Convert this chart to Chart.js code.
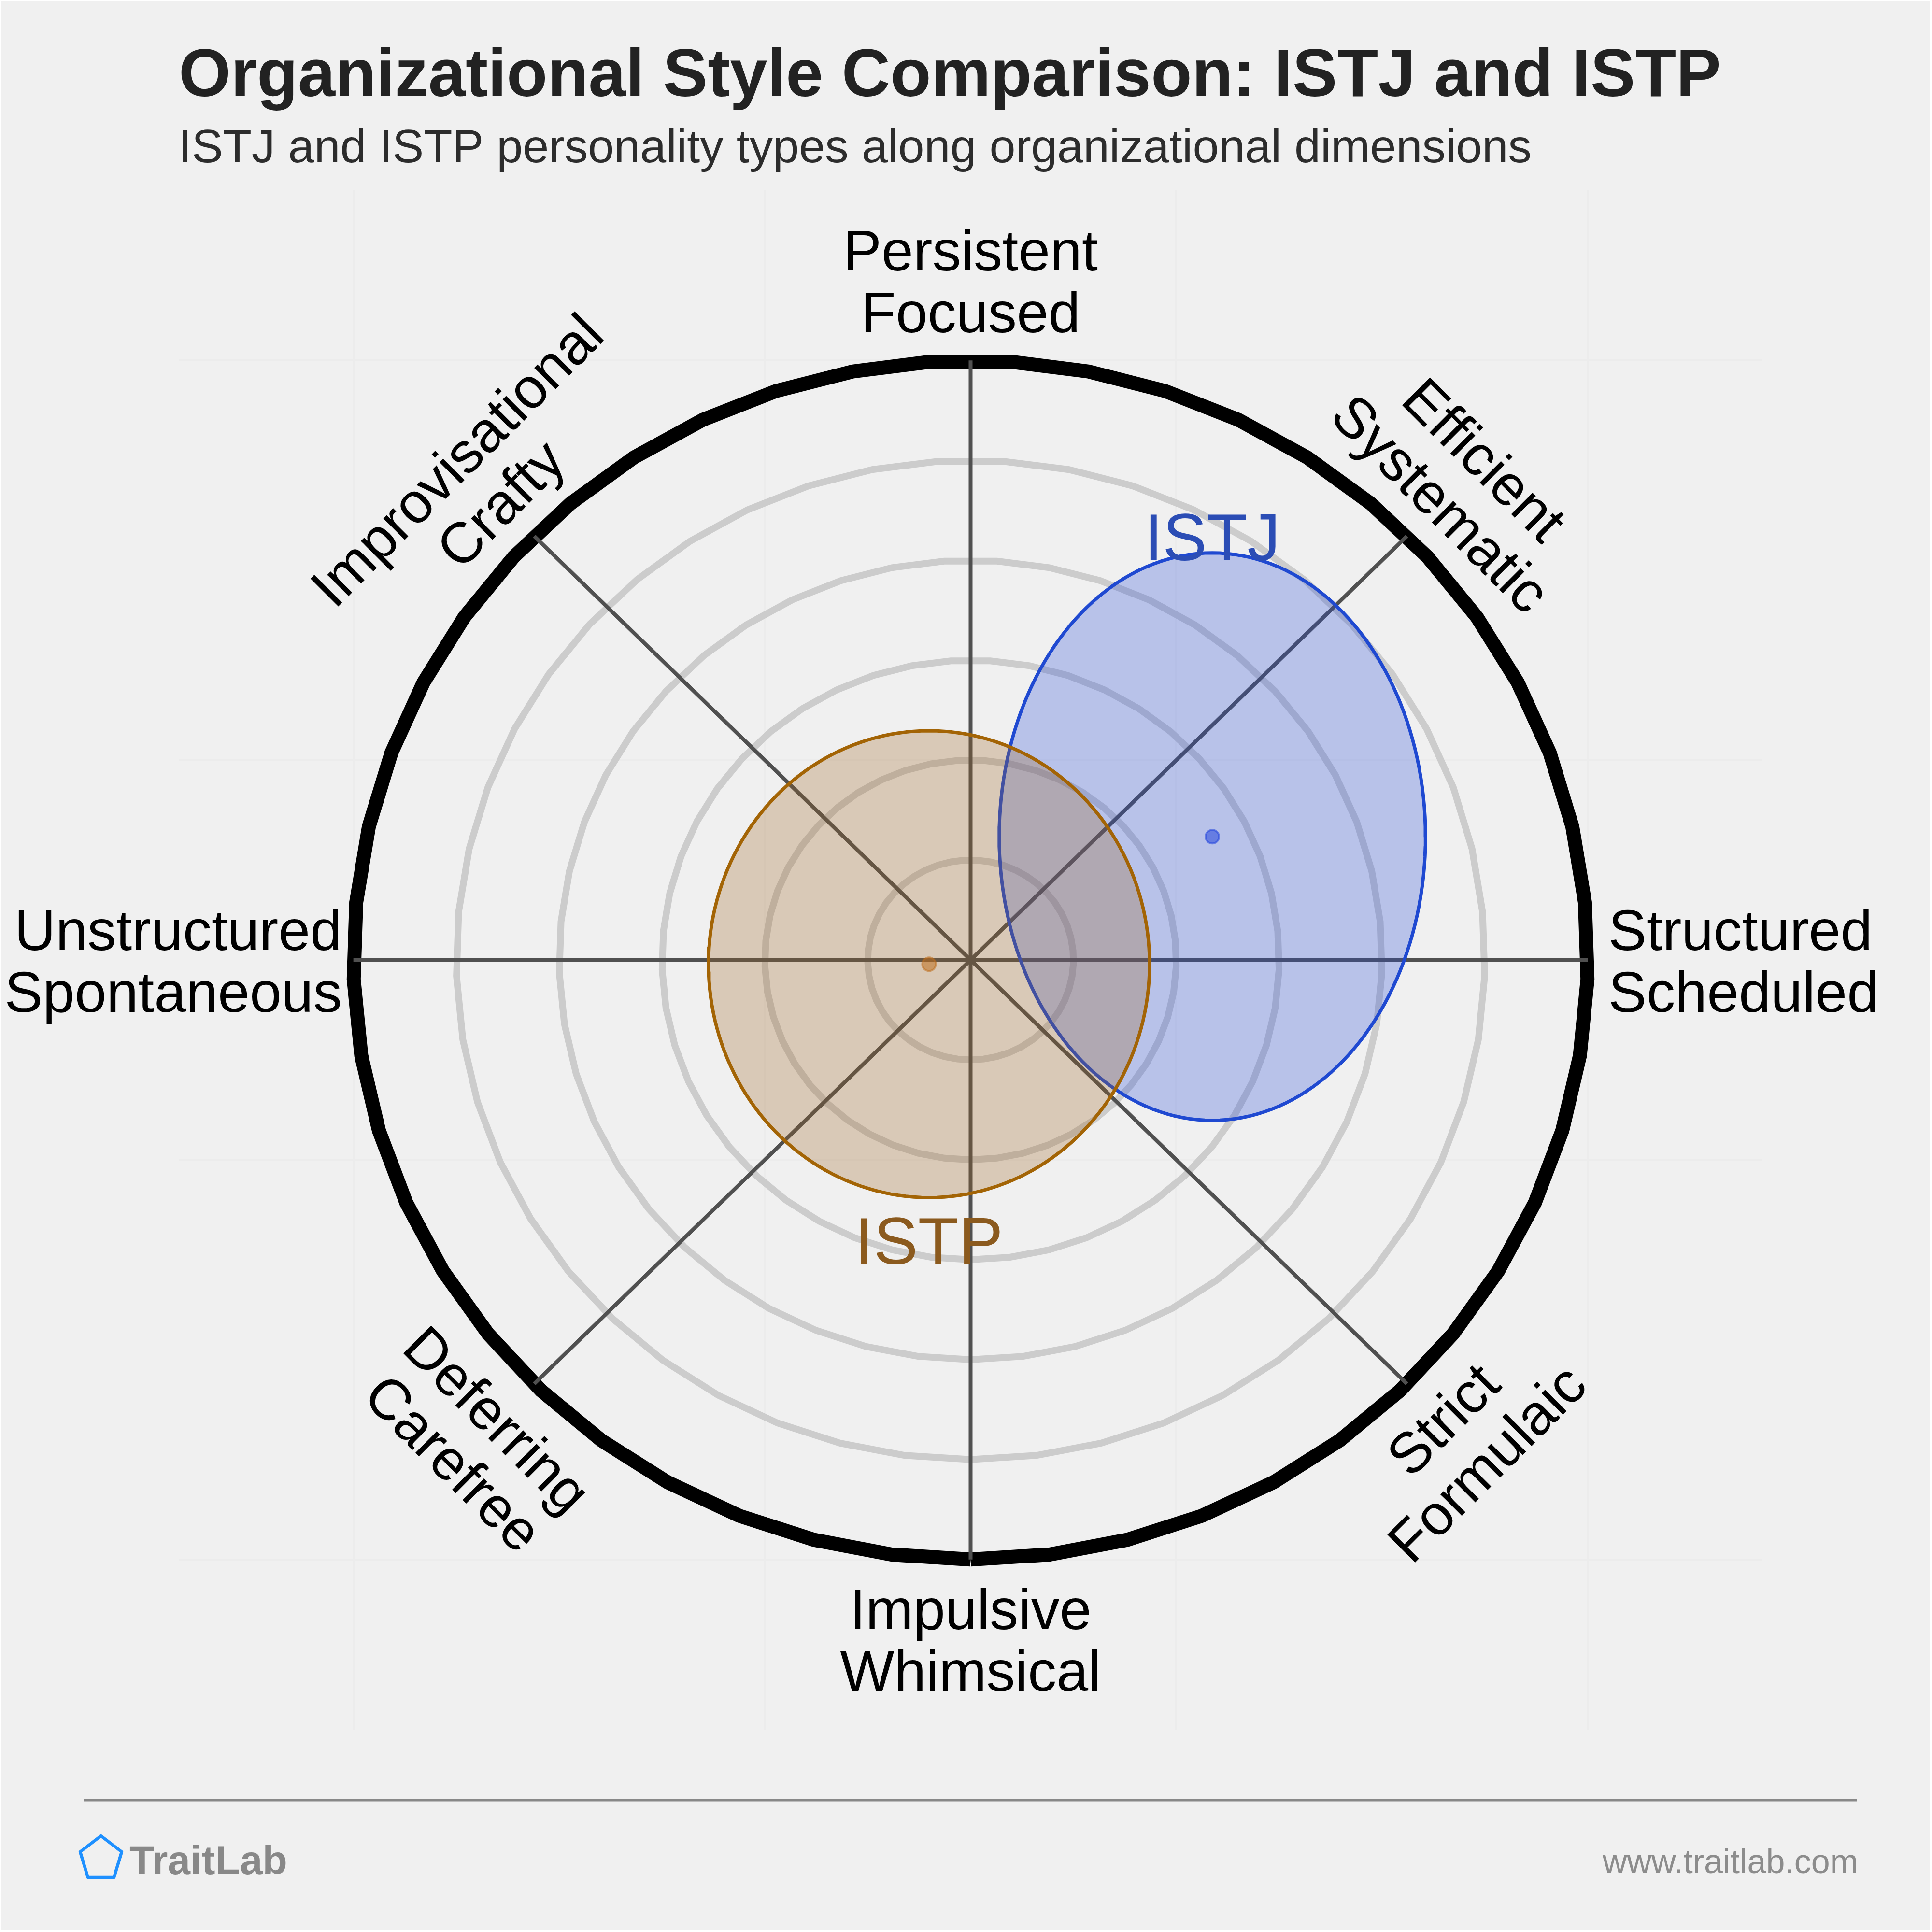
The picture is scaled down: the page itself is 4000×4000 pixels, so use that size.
<!DOCTYPE html>
<html>
<head>
<meta charset="utf-8">
<style>
html,body{margin:0;padding:0;background:#ffffff;}
canvas{display:block;}
</style>
<script src="https://cdn.jsdelivr.net/npm/chart.js@4"></script>
</head>
<body>
<canvas id="c" width="4000" height="4000" style="width:4000px;height:4000px"></canvas>
<script>
// ---- data ----
const chartTitle = "Organizational Style Comparison: ISTJ and ISTP";
const chartSubtitle = "ISTJ and ISTP personality types along organizational dimensions";
const typeNames = ["ISTJ", "ISTP"];
const centerX = [1.175, -0.202];
const centerY = [0.617, -0.021];
const spreadX = [1.036, 1.072];
const spreadY = [1.42, 1.168];
const ringLevels = [0.5, 1, 1.5, 2, 2.5];
const outerLevel = 3;
const spokeAngles = [0, 45, 90, 135];
const gridTicks = [-3, -1, 1, 3];
const dimensionLabels = [
  ["Persistent", "Focused"],
  ["Efficient", "Systematic"],
  ["Structured", "Scheduled"],
  ["Strict", "Formulaic"],
  ["Impulsive", "Whimsical"],
  ["Deferring", "Carefree"],
  ["Unstructured", "Spontaneous"],
  ["Improvisational", "Crafty"]
];

// ---- styling ----
const W = 4000, H = 4000;
const SANS = '"Liberation Sans", Arial, sans-serif';
const strokeColors = ["#1f49d1", "#a36405"];
const fillColors = ["rgba(40,75,215,0.28)", "rgba(157,100,36,0.28)"];
const dotColors = ["rgba(35,70,220,0.55)", "rgba(190,110,30,0.55)"];
const nameColors = ["#2b4db5", "#8b5a1e"];
const RING_SEGMENTS = 49;
const AREA = {left: 370, right: 3649, top: 393, bottom: 3582};
const XMAX = 3.849, YMAX = 3.854;

function ringPoints(level) {
  const pts = [];
  for (let k = 0; k <= RING_SEGMENTS; k++) {
    const t = k / RING_SEGMENTS * 2 * Math.PI;
    pts.push({x: level * Math.sin(t), y: -level * Math.cos(t)});
  }
  return pts;
}
function ellipsePoints(i) {
  const pts = [];
  for (let k = 0; k <= 180; k++) {
    const t = k / 180 * 2 * Math.PI;
    pts.push({x: centerX[i] + spreadX[i] * Math.cos(t), y: centerY[i] + spreadY[i] * Math.sin(t)});
  }
  return pts;
}
const lineBase = {showLine: true, pointRadius: 0, pointHoverRadius: 0, tension: 0, fill: false,
                  borderCapStyle: 'butt', borderJoinStyle: 'miter'};
const datasets = [];
ringLevels.forEach(l => datasets.push(Object.assign({}, lineBase, {
  label: 'ring ' + l, data: ringPoints(l), borderColor: '#cccccc', borderWidth: 14, order: 50
})));
datasets.push(Object.assign({}, lineBase, {
  label: 'outer', data: ringPoints(outerLevel), borderColor: '#000000', borderWidth: 29, order: 40
}));
spokeAngles.forEach(a => {
  const r = a * Math.PI / 180;
  datasets.push(Object.assign({}, lineBase, {
    label: 'axis ' + a,
    data: [{x: -outerLevel * Math.cos(r), y: -outerLevel * Math.sin(r)}, {x: outerLevel * Math.cos(r), y: outerLevel * Math.sin(r)}],
    borderColor: '#505050', borderWidth: 8, order: 30
  }));
});
typeNames.forEach((n, i) => {
  datasets.push(Object.assign({}, lineBase, {
    label: n, data: ellipsePoints(i), borderColor: strokeColors[i], backgroundColor: fillColors[i],
    borderWidth: 7, fill: 'shape', order: 20 - i, borderJoinStyle: 'round'
  }));
  datasets.push({
    label: n + ' mean', data: [{x: centerX[i], y: centerY[i]}], showLine: false,
    pointRadius: 14, pointHoverRadius: 14, pointBorderWidth: 4,
    pointBackgroundColor: dotColors[i], pointBorderColor: dotColors[i], order: 10 - i
  });
});

const textPlugin = {
  id: 'textPlugin',
  afterDraw(chart) {
    const ctx = chart.ctx;
    const text = (s, x, y, font, color, align) => {
      ctx.font = font; ctx.fillStyle = color; ctx.textAlign = align || 'left'; ctx.textBaseline = 'alphabetic';
      ctx.fillText(s, x, y);
    };
    ctx.save();
    text(chartTitle, 370, 199, `bold 138.8px ${SANS}`, '#222222');
    text(chartSubtitle, 370, 336, `97.1px ${SANS}`, '#2c2c2c');

    const labelFont = `118.5px ${SANS}`;
    const LH = 128;
    // straight labels: [index, x, first baseline, align]
    [[0, 2009.5, 560, 'center'], [4, 2009.5, 3373, 'center'], [2, 3330, 1967, 'left'], [6, 708, 1967, 'right']]
      .forEach(([i, x, y, al]) => {
        text(dimensionLabels[i][0], x, y, labelFont, '#000', al);
        text(dimensionLabels[i][1], x, y + LH, labelFont, '#000', al);
      });
    // rotated labels: [index, cx, cy, degrees]
    [[1, 3029, 996, 45], [3, 3032, 2983, -45], [5, 985, 2983, 45], [7, 990, 997, -45]]
      .forEach(([i, cx, cy, deg]) => {
        ctx.save();
        ctx.translate(cx, cy);
        ctx.rotate(deg * Math.PI / 180);
        text(dimensionLabels[i][0], 0, -22, labelFont, '#000', 'center');
        text(dimensionLabels[i][1], 0, 106, labelFont, '#000', 'center');
        ctx.restore();
      });
    // type names
    const sx = chart.scales.x;
    text(typeNames[0], sx.getPixelForValue(centerX[0]), 1160, `137px ${SANS}`, nameColors[0], 'center');
    text(typeNames[1], sx.getPixelForValue(centerX[1]), 2617, `138px ${SANS}`, nameColors[1], 'center');

    // footer
    ctx.strokeStyle = '#888888'; ctx.lineWidth = 5; ctx.lineCap = 'butt';
    ctx.beginPath(); ctx.moveTo(173, 3727); ctx.lineTo(3844, 3727); ctx.stroke();
    ctx.strokeStyle = '#1e90ff'; ctx.lineWidth = 6.5; ctx.lineJoin = 'round';
    ctx.beginPath(); ctx.moveTo(209, 3801); ctx.lineTo(252, 3834); ctx.lineTo(236, 3887);
    ctx.lineTo(182, 3887); ctx.lineTo(166, 3834); ctx.closePath(); ctx.stroke();
    text('TraitLab', 268, 3880, `bold 84px ${SANS}`, '#888888');
    text('www.traitlab.com', 3847, 3878, `70px ${SANS}`, '#8c8c8c', 'right');
    ctx.restore();
  }
};
const bgPlugin = {
  id: 'bgPlugin',
  beforeDraw(chart) {
    const ctx = chart.ctx;
    ctx.save();
    ctx.fillStyle = '#ffffff'; ctx.fillRect(0, 0, W, H);
    ctx.fillStyle = '#f0f0f0'; ctx.fillRect(2, 2, 3994, 3994);
    ctx.restore();
  }
};
const gridOpts = {color: '#ececec', lineWidth: 4, drawTicks: false};
new Chart(document.getElementById('c'), {
  type: 'scatter',
  data: {datasets},
  plugins: [bgPlugin, textPlugin],
  options: {
    responsive: false, animation: false, devicePixelRatio: 1,
    layout: {padding: {left: AREA.left, right: W - AREA.right, top: AREA.top, bottom: H - AREA.bottom}},
    plugins: {legend: {display: false}, tooltip: {enabled: false}, title: {display: false}},
    scales: {
      x: {type: 'linear', min: -XMAX, max: XMAX, grid: gridOpts, border: {display: false},
          ticks: {display: false}, afterBuildTicks: a => { a.ticks = gridTicks.map(v => ({value: v})); }},
      y: {type: 'linear', min: -YMAX, max: YMAX, grid: gridOpts, border: {display: false},
          ticks: {display: false}, afterBuildTicks: a => { a.ticks = gridTicks.map(v => ({value: v})); }}
    }
  }
});
</script>
</body>
</html>
